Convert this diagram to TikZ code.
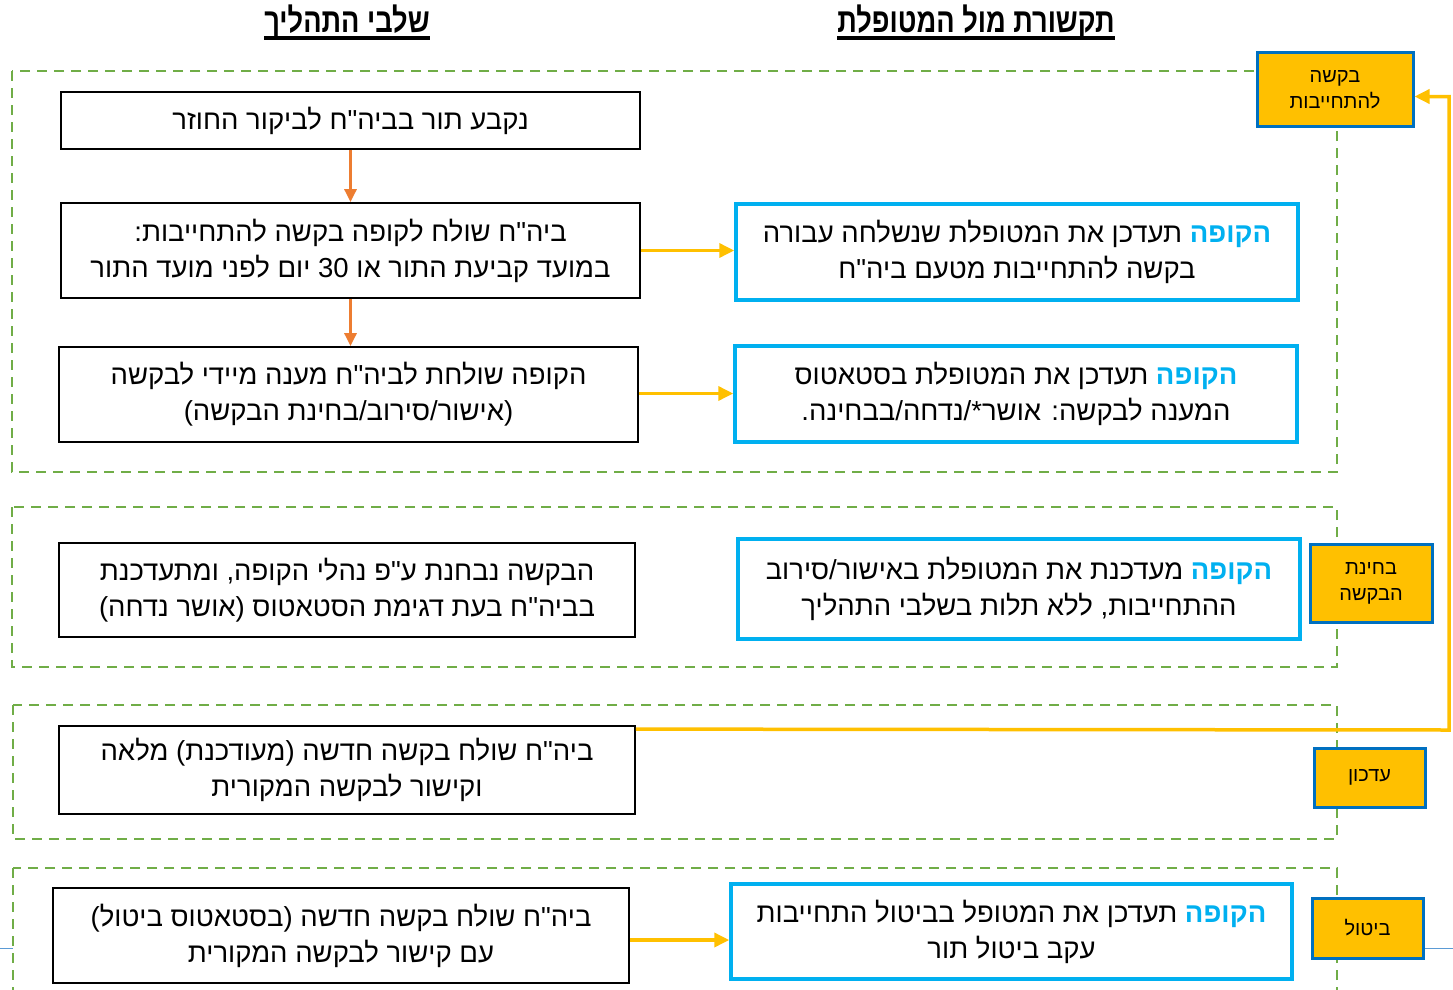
\documentclass[tikz,border=0pt]{standalone}
\usepackage{fontspec}
\usetikzlibrary{arrows.meta,calc}
\newfontfamily\hebfont[Script=Hebrew]{Liberation Sans}
\newfontfamily\headfont[Script=Hebrew,FakeStretch=0.8]{Liberation Sans}
% the fund's name carries its colour in the font itself
\newfontfamily\kupafont[Script=Hebrew,Color=00B0F0]{Liberation Sans}
\TeXXeTstate=1
\newcommand{\rl}[1]{\beginR #1\endR}
\definecolor{grpgreen}{HTML}{70AD47}
\definecolor{tabyellow}{HTML}{FFC000}
\definecolor{tabblue}{HTML}{0070C0}
\definecolor{arrorange}{HTML}{ED7D31}
\definecolor{arryellow}{HTML}{FFC000}
\definecolor{rulerblue}{HTML}{5B9BD5}
\definecolor{kupablue}{HTML}{00B0F0}
\newcommand{\kupa}{{\kupafont\bfseries הקופה}}
\newcommand{\bodyfont}{\hebfont\fontsize{27.5}{36}\selectfont}
\newcommand{\tabfont}{\hebfont\fontsize{20}{26}\selectfont}
\newcommand{\hfont}{\headfont\bfseries\fontsize{34}{34}\selectfont}
\begin{document}
\begin{tikzpicture}[x=1pt,y=-1pt,
  grp/.style={draw=grpgreen, line width=2.5pt, dash pattern=on 10pt off 7pt},
  pbox/.style={draw=black, line width=1.8pt, fill=white, align=center, inner sep=0pt, font=\bodyfont},
  cbox/.style={draw=kupablue, line width=3.5pt, fill=white, align=center, inner sep=0pt, font=\bodyfont},
  tabbox/.style={draw=tabblue, fill=tabyellow, line width=3pt, align=center, inner sep=0pt, font=\tabfont},
  head/.style={font=\hfont, inner sep=0pt, anchor=base},
  uline/.style={line width=3.5pt},
  oarrow/.style={draw=arrorange, line width=3pt, -{Triangle[length=13pt,width=12pt]}},
  yarrow/.style={draw=arryellow, line width=3.5pt, -{Triangle[length=15pt,width=14pt]}},
  ruler/.style={draw=rulerblue, line width=1pt}]
\useasboundingbox (0,0) rectangle (1453,990);
\clip (0,0) rectangle (1453,990);
\fill[white] (0,0) rectangle (1453,990);

% column headings
\node[head] (h1) at (347,33) {\rl{שלבי התהליך}};
\node[head] (h2) at (976,33) {\rl{תקשורת מול המטופלת}};
\draw[uline] ([yshift=-5pt]h1.base west) -- ([yshift=-5pt]h1.base east);
\draw[uline] ([yshift=-5pt]h2.base west) -- ([yshift=-5pt]h2.base east);

% thin rule behind the last group
\coordinate (r0) at (0,948);
\coordinate (r1) at (13,948);
\coordinate (r2) at (1423,948);
\coordinate (r3) at (1453,948);
\draw[ruler] (r0) -- (r1);
\draw[ruler] (r2) -- (r3);

% stage groups
\draw[grp] (12,71) rectangle (1337,472);
\draw[grp] (12,507) rectangle (1337,667);
\draw[grp] (13,705) rectangle (1337,839);
\draw[grp] (13,868) rectangle (1337,1010);

% process steps
\node[pbox, minimum width=579pt, minimum height=57pt] (b1) at (350.5,120.5)
  {\rl{נקבע תור בביה"ח לביקור החוזר}};
\node[pbox, minimum width=579pt, minimum height=95pt] (b2) at (350.5,250.5)
  {\rl{ביה"ח שולח לקופה בקשה להתחייבות:}\\\rl{במועד קביעת התור או 30 יום לפני מועד התור}};
\node[pbox, minimum width=579pt, minimum height=95pt] (b3) at (348.5,394.5)
  {\rl{הקופה שולחת לביה"ח מענה מיידי לבקשה}\\\rl{(אישור/סירוב/בחינת הבקשה)}};
\node[pbox, minimum width=576pt, minimum height=94pt] (b4) at (347,590)
  {\rl{הבקשה נבחנת ע"פ נהלי הקופה, ומתעדכנת}\\\rl{בביה"ח בעת דגימת הסטאטוס (אושר נדחה)}};
\node[pbox, minimum width=576pt, minimum height=88pt] (b5) at (347,770)
  {\rl{ביה"ח שולח בקשה חדשה (מעודכנת) מלאה}\\\rl{וקישור לבקשה המקורית}};
\node[pbox, minimum width=576pt, minimum height=95pt] (b6) at (341,935.5)
  {\rl{ביה"ח שולח בקשה חדשה (בסטאטוס ביטול)}\\\rl{עם קישור לבקשה המקורית}};

% patient communication
\node[cbox, minimum width=562pt, minimum height=96pt] (c1) at (1017,252)
  {\rl{\kupa{} תעדכן את המטופלת שנשלחה עבורה}\\\rl{בקשה להתחייבות מטעם ביה"ח}};
\node[cbox, minimum width=562pt, minimum height=96pt] (c2) at (1016,394)
  {\rl{\kupa{} תעדכן את המטופלת בסטאטוס}\\\rl{המענה לבקשה: אושר*/נדחה/בבחינה.}};
\node[cbox, minimum width=562pt, minimum height=100pt] (c3) at (1019,589)
  {\rl{\kupa{} מעדכנת את המטופלת באישור/סירוב}\\\rl{ההתחייבות, ללא תלות בשלבי התהליך}};
\node[cbox, minimum width=561pt, minimum height=95pt] (c4) at (1011.5,931.5)
  {\rl{\kupa{} תעדכן את המטופל בביטול התחייבות}\\\rl{עקב ביטול תור}};

% stage tabs
\node[tabbox, minimum width=156pt, minimum height=73pt] (t1) at (1335,89.5)
  {\rl{בקשה}\\\rl{להתחייבות}};
\node[tabbox, minimum width=122pt, minimum height=78pt] (t2) at (1371,583)
  {\rl{בחינת}\\\rl{הבקשה}};
\node[tabbox, minimum width=111pt, minimum height=59pt] (t3) at (1369.5,777.5)
  {\rl{עדכון}};
\node[tabbox, minimum width=111pt, minimum height=60pt] (t4) at (1367.5,928)
  {\rl{ביטול}};

% flow between steps
\draw[oarrow] (b1.south) -- (b1.south |- b2.north);
\draw[oarrow] (b2.south) -- (b2.south |- b3.north);
\draw[yarrow] (b2.east) -- (b2.east -| c1.west);
\draw[yarrow] ([yshift=1pt]b3.east) -- ([yshift=1pt]b3.east -| c2.west);
\draw[yarrow] ([yshift=-4.5pt]b6.east) -- ([yshift=-4.5pt]b6.east -| c4.west);

% update loops back to the request stage
\coordinate (y0) at ([yshift=-4pt]b5.north east);
\coordinate (turn) at (1449,730);
\draw[yarrow] (y0) -- (turn) |- ([yshift=-7pt]t1.east);
\end{tikzpicture}
\end{document}
